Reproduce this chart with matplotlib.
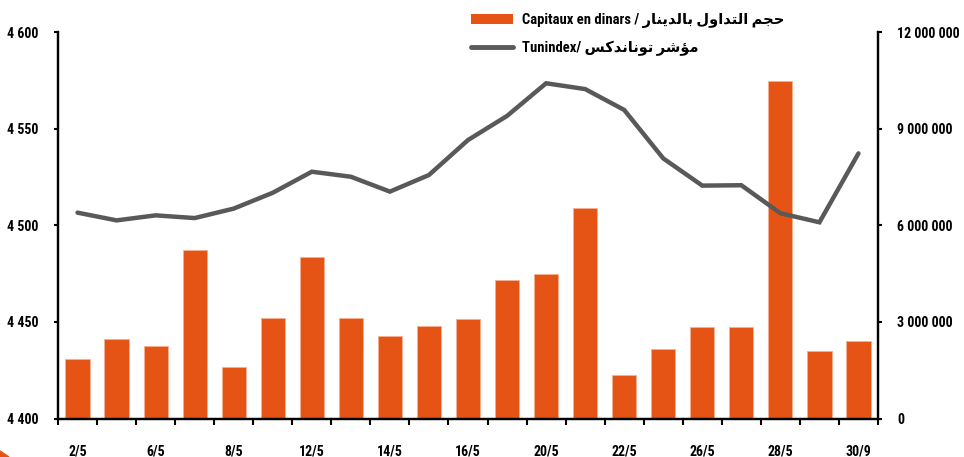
import numpy as np
import matplotlib
matplotlib.use('Agg')
import matplotlib.pyplot as plt
import matplotlib.font_manager as fm
from matplotlib.ticker import FuncFormatter, FixedLocator
from matplotlib.patches import Polygon
from matplotlib.lines import Line2D
from matplotlib.patches import Patch

# police étroite si disponible, DejaVu en secours pour l'arabe
dispo = {f.name for f in fm.fontManager.ttflist}
narrow = next((n for n in ['Liberation Sans Narrow', 'Roboto Condensed', 'DejaVu Sans Condensed',
                           'Liberation Sans'] if n in dispo), 'DejaVu Sans')
FAM = [narrow, 'DejaVu Sans']
plt.rcParams['font.family'] = FAM

ORANGE = '#E65415'
GRIS = '#595959'

# --- données ---
dates = ['2/5', '5/5', '6/5', '7/5', '8/5', '9/5', '12/5', '13/5', '14/5', '15/5', '16/5',
         '19/5', '20/5', '21/5', '22/5', '23/5', '26/5', '27/5', '28/5', '29/5', '30/9']
capitaux = [1.84e6, 2.46e6, 2.25e6, 5.24e6, 1.59e6, 3.13e6, 5.02e6, 3.11e6, 2.57e6, 2.87e6, 3.08e6,
            4.31e6, 4.50e6, 6.54e6, 1.35e6, 2.15e6, 2.85e6, 2.83e6, 10.48e6, 2.09e6, 2.40e6]
tunindex = [4506.6, 4502.6, 4505.2, 4503.8, 4508.7, 4516.9, 4527.8, 4525.2, 4517.5, 4526.1, 4544.2,
            4556.7, 4573.6, 4570.6, 4559.8, 4534.7, 4520.6, 4520.8, 4506.3, 4501.6, 4537.3]
yticks_g = [4400, 4450, 4500, 4550, 4600]
yticks_d = [0, 3e6, 6e6, 9e6, 12e6]

# mise en forme arabe (formes de présentation + ordre visuel)
FORMES = {
    'ا': ('\uFE8D', '\uFE8E', None, None), 'ب': ('\uFE8F', '\uFE90', '\uFE91', '\uFE92'),
    'ت': ('\uFE95', '\uFE96', '\uFE97', '\uFE98'), 'ج': ('\uFE9D', '\uFE9E', '\uFE9F', '\uFEA0'),
    'ح': ('\uFEA1', '\uFEA2', '\uFEA3', '\uFEA4'), 'د': ('\uFEA9', '\uFEAA', None, None),
    'ر': ('\uFEAD', '\uFEAE', None, None), 'س': ('\uFEB1', '\uFEB2', '\uFEB3', '\uFEB4'),
    'ش': ('\uFEB5', '\uFEB6', '\uFEB7', '\uFEB8'), 'ك': ('\uFED9', '\uFEDA', '\uFEDB', '\uFEDC'),
    'ل': ('\uFEDD', '\uFEDE', '\uFEDF', '\uFEE0'), 'م': ('\uFEE1', '\uFEE2', '\uFEE3', '\uFEE4'),
    'ن': ('\uFEE5', '\uFEE6', '\uFEE7', '\uFEE8'), 'و': ('\uFEED', '\uFEEE', None, None),
    'ي': ('\uFEF1', '\uFEF2', '\uFEF3', '\uFEF4'), 'ؤ': ('\uFE85', '\uFE86', None, None),
}


def arabe(s):
    out = []
    for i, c in enumerate(s):
        f = FORMES.get(c)
        if f is None:
            out.append(c)
            continue
        prev = s[i - 1] if i > 0 else ''
        nxt = s[i + 1] if i + 1 < len(s) else ''
        jp = prev in FORMES and FORMES[prev][2] is not None
        jn = f[2] is not None and nxt in FORMES
        out.append(f[{(False, False): 0, (True, False): 1, (False, True): 2, (True, True): 3}[(jp, jn)]])
    return ''.join(reversed(out))


def espace(v, pos=None):
    return f'{v:,.0f}'.replace(',', ' ')


fig = plt.figure(figsize=(9.64, 4.57), dpi=100)
ax = fig.add_axes([58 / 964, 38.5 / 457, 820 / 964, 386.2 / 457])
ax2 = ax.twinx()
x = np.arange(len(dates))

ax2.bar(x, capitaux, width=0.62, color=ORANGE, edgecolor='#F6B08F', linewidth=0.6)
ax.plot(x, tunindex, color=GRIS, lw=3.2, solid_capstyle='round', solid_joinstyle='miter')
ax.set_zorder(ax2.get_zorder() + 1)
ax.patch.set_visible(False)

ax.set_xlim(-0.5, len(dates) - 0.5)
ax.set_ylim(4400, 4600)
ax2.set_ylim(0, 12e6)
ax.set_yticks(yticks_g)
ax2.set_yticks(yticks_d)
ax.yaxis.set_major_formatter(FuncFormatter(espace))
ax2.yaxis.set_major_formatter(FuncFormatter(espace))

# graduations aux limites des catégories, étiquettes une date sur deux
ax.xaxis.set_major_locator(FixedLocator(np.arange(-0.5, len(dates), 1.0)))
ax.set_xticklabels([])
ax.set_xticks(x[::2], minor=True)
ax.set_xticklabels(dates[::2], minor=True)
ax.tick_params(axis='x', which='major', direction='out', length=4, width=1.5)
ax.tick_params(axis='x', which='minor', length=0, pad=19, labelsize=10)

for a in (ax, ax2):
    for s in a.spines.values():
        s.set_linewidth(1.6)
    a.spines['top'].set_visible(False)
ax.tick_params(axis='y', direction='out', length=3, width=1.5, pad=11, labelsize=10)
ax2.tick_params(axis='y', direction='out', length=3, width=1.5, pad=11, labelsize=10)
for t in ax.get_xticklabels(minor=True) + ax.get_yticklabels() + ax2.get_yticklabels():
    t.set_fontweight('bold')

poignees = [Patch(facecolor=ORANGE, edgecolor='none'),
            Line2D([0], [0], color=GRIS, lw=3.5, solid_capstyle='round')]
libelles = ['Capitaux en dinars / ' + arabe('حجم التداول بالدينار'),
            'Tunindex/ ' + arabe('مؤشر توناندكس')]
leg = fig.legend(poignees, libelles, loc='upper left', bbox_to_anchor=(458 / 964, 1.0),
                 frameon=False, handlelength=2.9, handleheight=0.7, handletextpad=0.6,
                 labelspacing=0.85, prop={'family': FAM, 'size': 10.5, 'weight': 'bold'})

# petit coin orange en bas à gauche
fig.patches.append(Polygon([(0, 0), (0, 6 / 457), (9 / 964, 0)], closed=True,
                           transform=fig.transFigure, color=ORANGE))

fig.savefig('out.png', dpi=100)
